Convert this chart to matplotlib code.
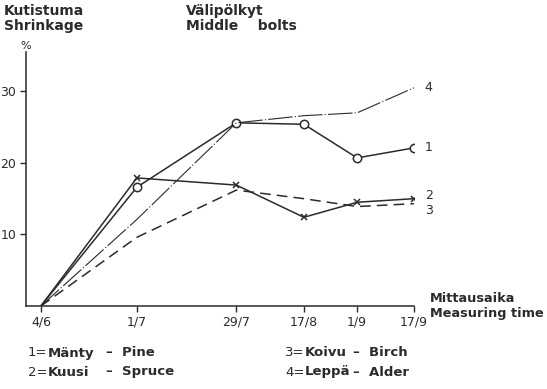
import matplotlib.pyplot as plt

# measuring dates and their day number counted from 4 June
date_labels = ["4/6", "1/7", "29/7", "17/8", "1/9", "17/9"]
days = [0, 27, 55, 74, 89, 105]

# shrinkage of middle bolts, %
pine = [0, 16.6, 25.6, 25.4, 20.7, 22.1]
spruce = [0, 17.9, 16.9, 12.4, 14.5, 15.0]
birch = [0, 9.6, 16.2, 15.0, 13.9, 14.3]
alder = [0, 12.1, 25.6, 26.6, 27.0, 30.5]

series_ids = ["1", "2", "3", "4"]
legend_left = [("1", "Mänty", "Pine"), ("2", "Kuusi", "Spruce")]
legend_right = [("3", "Koivu", "Birch"), ("4", "Leppä", "Alder")]

ink = "#2b2b2b"
plt.rcParams["font.family"] = "DejaVu Sans"

fig = plt.figure(figsize=(5.47, 3.89), dpi=100)
ax = fig.add_axes([26 / 547, 83 / 389, (414 - 26) / 547, (306 - 52) / 389])

ax.plot(days, pine, color=ink, lw=1.1, marker="o", ms=6, mfc="white",
        mec=ink, mew=1.1, markevery=slice(1, None))
ax.plot(days, spruce, color=ink, lw=1.1, marker="x", ms=4.5, mew=1.1,
        markevery=slice(1, None))
ax.plot(days, birch, color=ink, lw=1.1, linestyle=(0, (7, 4)))
ax.plot(days, alder, color=ink, lw=0.8, linestyle=(0, (22, 2, 1, 2)))

ax.set_xlim(-4.2, 105)
ax.set_ylim(0, 35.5)
ax.spines["top"].set_visible(False)
ax.spines["right"].set_visible(False)
for s in ("left", "bottom"):
    ax.spines[s].set_color(ink)
    ax.spines[s].set_linewidth(1.1)

ax.set_xticks(days)
ax.set_xticklabels(date_labels, fontsize=9, color=ink)
ax.set_yticks([10, 20, 30])
ax.set_yticklabels(["10", "20", "30"], fontsize=9, color=ink)
ax.tick_params(axis="both", direction="out", length=4, width=1, color=ink,
               pad=3)

# series numbers at the right end of each line
ends = [pine[-1], spruce[-1] + 0.4, birch[-1] - 0.9, alder[-1]]
for sid, y in zip(series_ids, ends):
    ax.text(days[-1] + 3, y, sid, fontsize=9, color=ink, va="center")

bold = dict(fontsize=10, fontweight="bold", color=ink)
fig.text(4 / 547, 1 - 4 / 389, "Kutistuma\nShrinkage", va="top",
         linespacing=1.05, **bold)
fig.text(186 / 547, 1 - 4 / 389, "Välipölkyt\nMiddle    bolts", va="top",
         linespacing=1.05, **bold)
fig.text(26 / 547, 1 - 46 / 389, "%", fontsize=8, color=ink, ha="center",
         va="center")
fig.text(430 / 547, 1 - 306 / 389, "Mittausaika\nMeasuring time",
         va="center", linespacing=1.15, fontsize=9.3, fontweight="bold",
         color=ink)

legend_bold = dict(fontsize=9.5, fontweight="bold", color=ink)
for i, (num, fi, en) in enumerate(legend_left):
    y = 1 - (353 + 19 * i) / 389
    fig.text(28 / 547, y, num + "=", fontsize=9.5, color=ink, va="center")
    fig.text(48 / 547, y, fi, va="center", **legend_bold)
    fig.text(106 / 547, y, "–  " + en, va="center", **legend_bold)
for i, (num, fi, en) in enumerate(legend_right):
    y = 1 - (353 + 19 * i) / 389
    fig.text(285 / 547, y, num + "=", fontsize=9.5, color=ink, va="center")
    fig.text(305 / 547, y, fi, va="center", **legend_bold)
    fig.text(353 / 547, y, "–  " + en, va="center", **legend_bold)

fig.savefig("out.png", dpi=100)
